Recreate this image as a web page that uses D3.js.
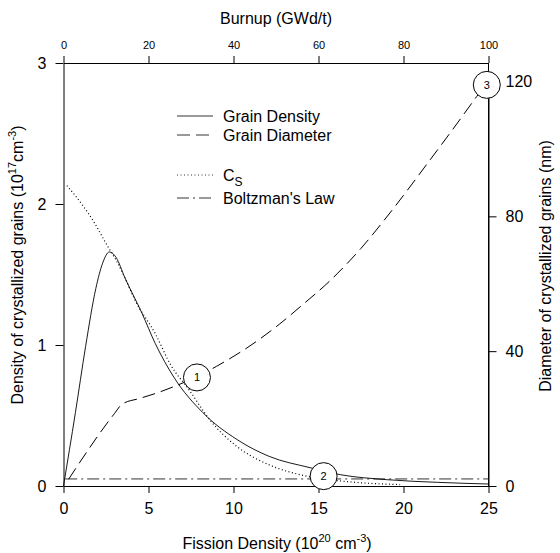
<!DOCTYPE html>
<html>
<head>
<meta charset="utf-8">
<script src="https://cdn.jsdelivr.net/npm/d3@7"></script>
<style>
  body { margin: 0; background: #fff; }
  svg { font-family: "Liberation Sans", Arial, sans-serif; }
  .axis text { fill: #000; }
  .axis line, .axis path { stroke: #000; }
</style>
</head>
<body>
<svg id="chart" width="560" height="553"></svg>
<script>
// fission density (1e20 cm^-3) vs grain density (1e17 cm^-3)
const grainDensity = [
  [0, 0.0], [0.7, 0.52], [1.3, 0.99], [1.9, 1.4], [2.3, 1.58], [2.7, 1.66],
  [3.1, 1.62], [3.6, 1.48], [4.6, 1.23], [5.4, 1.01], [6.5, 0.77], [8.2, 0.52],
  [10.2, 0.33], [12.1, 0.21], [14.5, 0.13], [16.3, 0.08], [19, 0.045],
  [22, 0.026], [25, 0.014]
];
// Cs (1e17 cm^-3)
const cs = [
  [0.2, 2.13], [1.07, 2.0], [1.85, 1.86], [2.55, 1.71], [3.1, 1.6], [3.6, 1.48],
  [4.2, 1.32], [5.4, 1.08], [6.3, 0.86], [7.4, 0.68], [8.6, 0.47], [10.2, 0.28],
  [12.1, 0.15], [14.3, 0.07], [16.8, 0.03], [19.8, 0.01]
];
// grain diameter (nm), right axis
const grainDiameter = [
  [0.3, 2], [3.0, 21.5], [3.45, 24.3], [4.5, 26], [5.5, 27.6], [6.5, 29.5],
  [7.8, 32.3], [9, 35.5], [10.8, 41], [12.7, 48], [14, 53.5], [15.7, 61],
  [17.5, 70.5], [19.2, 81], [21.6, 97], [23, 106.5], [24.3, 115.5], [24.9, 119.5]
];
// Boltzman's law, constant level (1e17 cm^-3)
const boltzman = [[0.1, 0.05], [25, 0.05]];

// numbered markers: [label, fission density, value, axis]
const markers = [
  ['1', 7.85, 0.77, 'left'],
  ['2', 15.3, 0.07, 'left'],
  ['3', 24.9, 119, 'right']
];

const xTicks = [0, 5, 10, 15, 20, 25];
const yTicks = [0, 1, 2, 3];
const yRightTicks = [0, 40, 80, 120];
const burnupTicks = [0, 20, 40, 60, 80, 100];

const legendItems = [
  { name: 'Grain Density', dash: null },
  { name: 'Grain Diameter', dash: '13,6' },
  { name: 'C', sub: 'S', dash: '1,2.5' },
  { name: "Boltzman's Law", dash: '12,4,2,4' }
];

const svg = d3.select('#chart');
const fmt = d3.format('d');

const x = d3.scaleLinear().domain([0, 25]).range([63.5, 488.5]);
const xTop = d3.scaleLinear().domain([0, 100]).range([63.5, 488.5]);
const y = d3.scaleLinear().domain([0, 3]).range([486, 63]);
const yR = d3.scaleLinear().domain([0, 120]).range([486, 81.5]);

// axes
svg.append('g')
  .attr('class', 'axis')
  .attr('transform', 'translate(0,486)')
  .call(d3.axisBottom(x).tickValues(xTicks).tickFormat(fmt).tickSize(7).tickSizeOuter(0).tickPadding(10))
  .style('font-size', '16px');

svg.append('g')
  .attr('class', 'axis')
  .attr('transform', 'translate(0,63)')
  .call(d3.axisTop(xTop).tickValues(burnupTicks).tickFormat(fmt).tickSize(7).tickSizeOuter(0).tickPadding(7))
  .style('font-size', '11px');

svg.append('g')
  .attr('class', 'axis')
  .attr('transform', 'translate(63.5,0)')
  .call(d3.axisLeft(y).tickValues(yTicks).tickFormat(fmt).tickSize(8).tickSizeOuter(0).tickPadding(9))
  .style('font-size', '16px');

svg.append('g')
  .attr('class', 'axis')
  .attr('transform', 'translate(488.5,0)')
  .call(d3.axisRight(yR).tickValues(yRightTicks).tickFormat(fmt).tickSize(8).tickSizeOuter(0).tickPadding(9))
  .style('font-size', '16px');

// right axis line must run the full height
svg.append('line')
  .attr('x1', 488.5).attr('x2', 488.5)
  .attr('y1', 63).attr('y2', 486)
  .attr('stroke', '#000');

svg.selectAll('.axis .domain').attr('fill', 'none');

// curves
const lineL = d3.line().x(d => x(d[0])).y(d => y(d[1])).curve(d3.curveMonotoneX);
const lineR = d3.line().x(d => x(d[0])).y(d => yR(d[1])).curve(d3.curveMonotoneX);

const curves = svg.append('g').attr('fill', 'none').attr('stroke', '#000');

curves.append('path').attr('d', lineL(boltzman))
  .attr('stroke', '#333').attr('stroke-dasharray', '12,4,2,4');
curves.append('path').attr('d', lineL(cs))
  .attr('stroke-width', 1.2).attr('stroke-dasharray', '1,2.5');
curves.append('path').attr('d', lineL(grainDensity)).attr('stroke-width', 0.9);
curves.append('path').attr('d', lineR(grainDiameter))
  .attr('stroke-dasharray', '13,6');

// numbered circles
const mk = svg.append('g')
  .selectAll('g')
  .data(markers)
  .join('g')
  .attr('transform', d => `translate(${x(d[1])},${d[3] === 'left' ? y(d[2]) : yR(d[2])})`);
mk.append('circle').attr('r', 13.5).attr('fill', '#fff').attr('stroke', '#000');
mk.append('text').attr('text-anchor', 'middle').attr('dy', '0.36em')
  .style('font-size', '11px').text(d => d[0]);

// legend
const legendRows = [116, 135, 175, 198];
const lg = svg.append('g')
  .selectAll('g')
  .data(legendItems)
  .join('g')
  .attr('transform', (d, i) => `translate(177,${legendRows[i]})`);
lg.append('line').attr('x1', 0).attr('x2', 36)
  .attr('stroke', '#000').attr('stroke-width', 0.8)
  .attr('stroke-dasharray', d => d.dash);
const lt = lg.append('text').attr('x', 46).attr('dy', '0.36em').style('font-size', '16px');
lt.append('tspan').text(d => d.name);
lt.filter(d => d.sub).append('tspan')
  .attr('dy', 5).style('font-size', '12px').text(d => d.sub);

// axis titles
const bt = svg.append('text')
  .attr('x', 277).attr('y', 549)
  .attr('text-anchor', 'middle').style('font-size', '16px');
bt.append('tspan').text('Fission Density (10');
bt.append('tspan').attr('dy', -7).style('font-size', '11px').text('20');
bt.append('tspan').attr('dy', 7).text(' cm');
bt.append('tspan').attr('dy', -7).style('font-size', '11px').text('-3');
bt.append('tspan').attr('dy', 7).text(')');

svg.append('text')
  .attr('x', 276).attr('y', 24)
  .attr('text-anchor', 'middle').style('font-size', '16px')
  .text('Burnup (GWd/t)');

const lt2 = svg.append('text')
  .attr('transform', 'translate(23,265) rotate(-90)')
  .attr('text-anchor', 'middle').style('font-size', '16px');
lt2.append('tspan').text('Density of crystallized grains (10');
lt2.append('tspan').attr('dy', -7).style('font-size', '11px').text('17');
lt2.append('tspan').attr('dy', 7).text('cm');
lt2.append('tspan').attr('dy', -7).style('font-size', '11px').text('-3');
lt2.append('tspan').attr('dy', 7).text(')');

svg.append('text')
  .attr('transform', 'translate(551,266) rotate(-90)')
  .attr('text-anchor', 'middle').style('font-size', '16px')
  .text('Diameter of crystallized grains (nm)');
</script>
</body>
</html>
